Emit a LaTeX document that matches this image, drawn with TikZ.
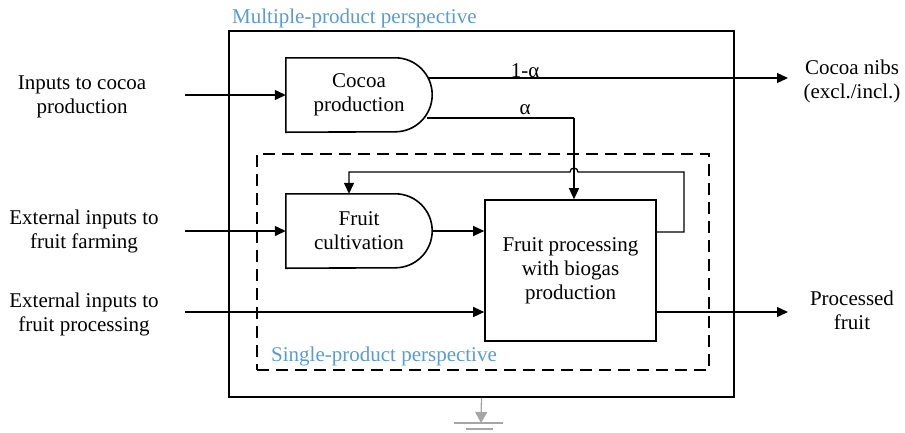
\documentclass[tikz,border=0pt]{standalone}
\usepackage{fontspec}
\setmainfont{Liberation Serif}
\usetikzlibrary{arrows.meta,calc}
\definecolor{persp}{HTML}{5B9BD5}
\definecolor{gnd}{HTML}{A6A6A6}
\begin{document}
\begin{tikzpicture}[x=1pt,y=-1pt,
  every node/.style={font=\fontsize{21}{24}\selectfont, align=center, inner sep=0pt},
  conn/.style={line width=1.3pt, -{Triangle[length=11pt,width=10pt]}},
  plain/.style={line width=1.3pt},
  boxline/.style={line width=1.6pt},
  lbl/.style={persp, anchor=west}]
\useasboundingbox (0,0) rectangle (905,432);

% frames
\node[draw, boxline, minimum width=505pt, minimum height=366pt] (outer) at (481.5,214) {};
\node[draw, line width=1.8pt, dash pattern=on 12pt off 7pt, minimum width=452pt, minimum height=216pt] (inner) at (483,262) {};
\node[lbl] (mlbl) at (232,18) {Multiple-product perspective};
\node[lbl] (slbl) at (271,356) {Single-product perspective};

% process nodes
\node[minimum width=146pt, minimum height=74pt] (cocoa) at (359,95) {Cocoa\\production};
\draw[boxline] (cocoa.south west) -- (cocoa.north west) -- ([xshift=-37pt]cocoa.north east)
  arc[start angle=90, end angle=-90, radius=37pt] -- cycle;
\node[minimum width=146pt, minimum height=74pt] (cult) at (359,231) {Fruit\\cultivation};
\draw[boxline] (cult.south west) -- (cult.north west) -- ([xshift=-37pt]cult.north east)
  arc[start angle=90, end angle=-90, radius=37pt] -- cycle;
\node[draw, boxline, minimum width=171pt, minimum height=141pt] (proc) at (570.5,270.5) {Fruit processing\\with biogas\\production};

% outside texts
\node (tin1) at (82,97) {Inputs to cocoa\\production};
\node (tin2) at (84,231) {External inputs to\\fruit farming};
\node (tin3) at (84,314) {External inputs to\\fruit processing};
\node (tout1) at (852,81) {Cocoa nibs\\(excl./incl.)};
\node (tout2) at (852,310) {Processed\\fruit};

% connector end points
\coordinate (in1) at (185,95);
\coordinate (in2) at (185,231);
\coordinate (in3) at (185,312);
\coordinate (out1) at (788,78);
\coordinate (out2) at (788,312);
\coordinate (abend) at (574,118);
\coordinate (lr) at (684,232);
\coordinate (ld) at (349,172);

% connectors
\draw[conn] (in1) -- (cocoa.west);
\draw[conn] (in2) -- (cult.west);
\draw[conn] (in3) -- (in3 -| proc.west);
\draw[conn] ([shift={(-4,-17)}]cocoa.east) -- (out1);
\node (a1) at (525,71) {1-α};
\draw[plain] ([shift={(-5,23)}]cocoa.east) -- (abend);
\node (a2) at (525,110) {α};
\draw[conn] (abend) -- (abend |- proc.north);
\draw[conn] (cult.east) -- (cult.east -| proc.west);
\draw[conn] (proc.east |- lr) -- (lr) -- (lr |- ld) -- ([xshift=4pt]abend |- ld)
  arc[start angle=0, end angle=180, radius=4pt] -- (ld) -- (ld |- cult.north);
\draw[conn] (proc.east |- out2) -- (out2);

% ground
\coordinate (g1) at (481,423);
\draw[gnd, line width=1.3pt, -{Triangle[length=11pt,width=12pt]}] (outer.south) -- (g1);
\draw[gnd, line width=1.3pt] ([xshift=-27pt]g1) -- ([xshift=22pt]g1);
\draw[gnd, line width=1.3pt] ([shift={(-15,6)}]g1) -- ([shift={(12,6)}]g1);
\end{tikzpicture}
\end{document}
